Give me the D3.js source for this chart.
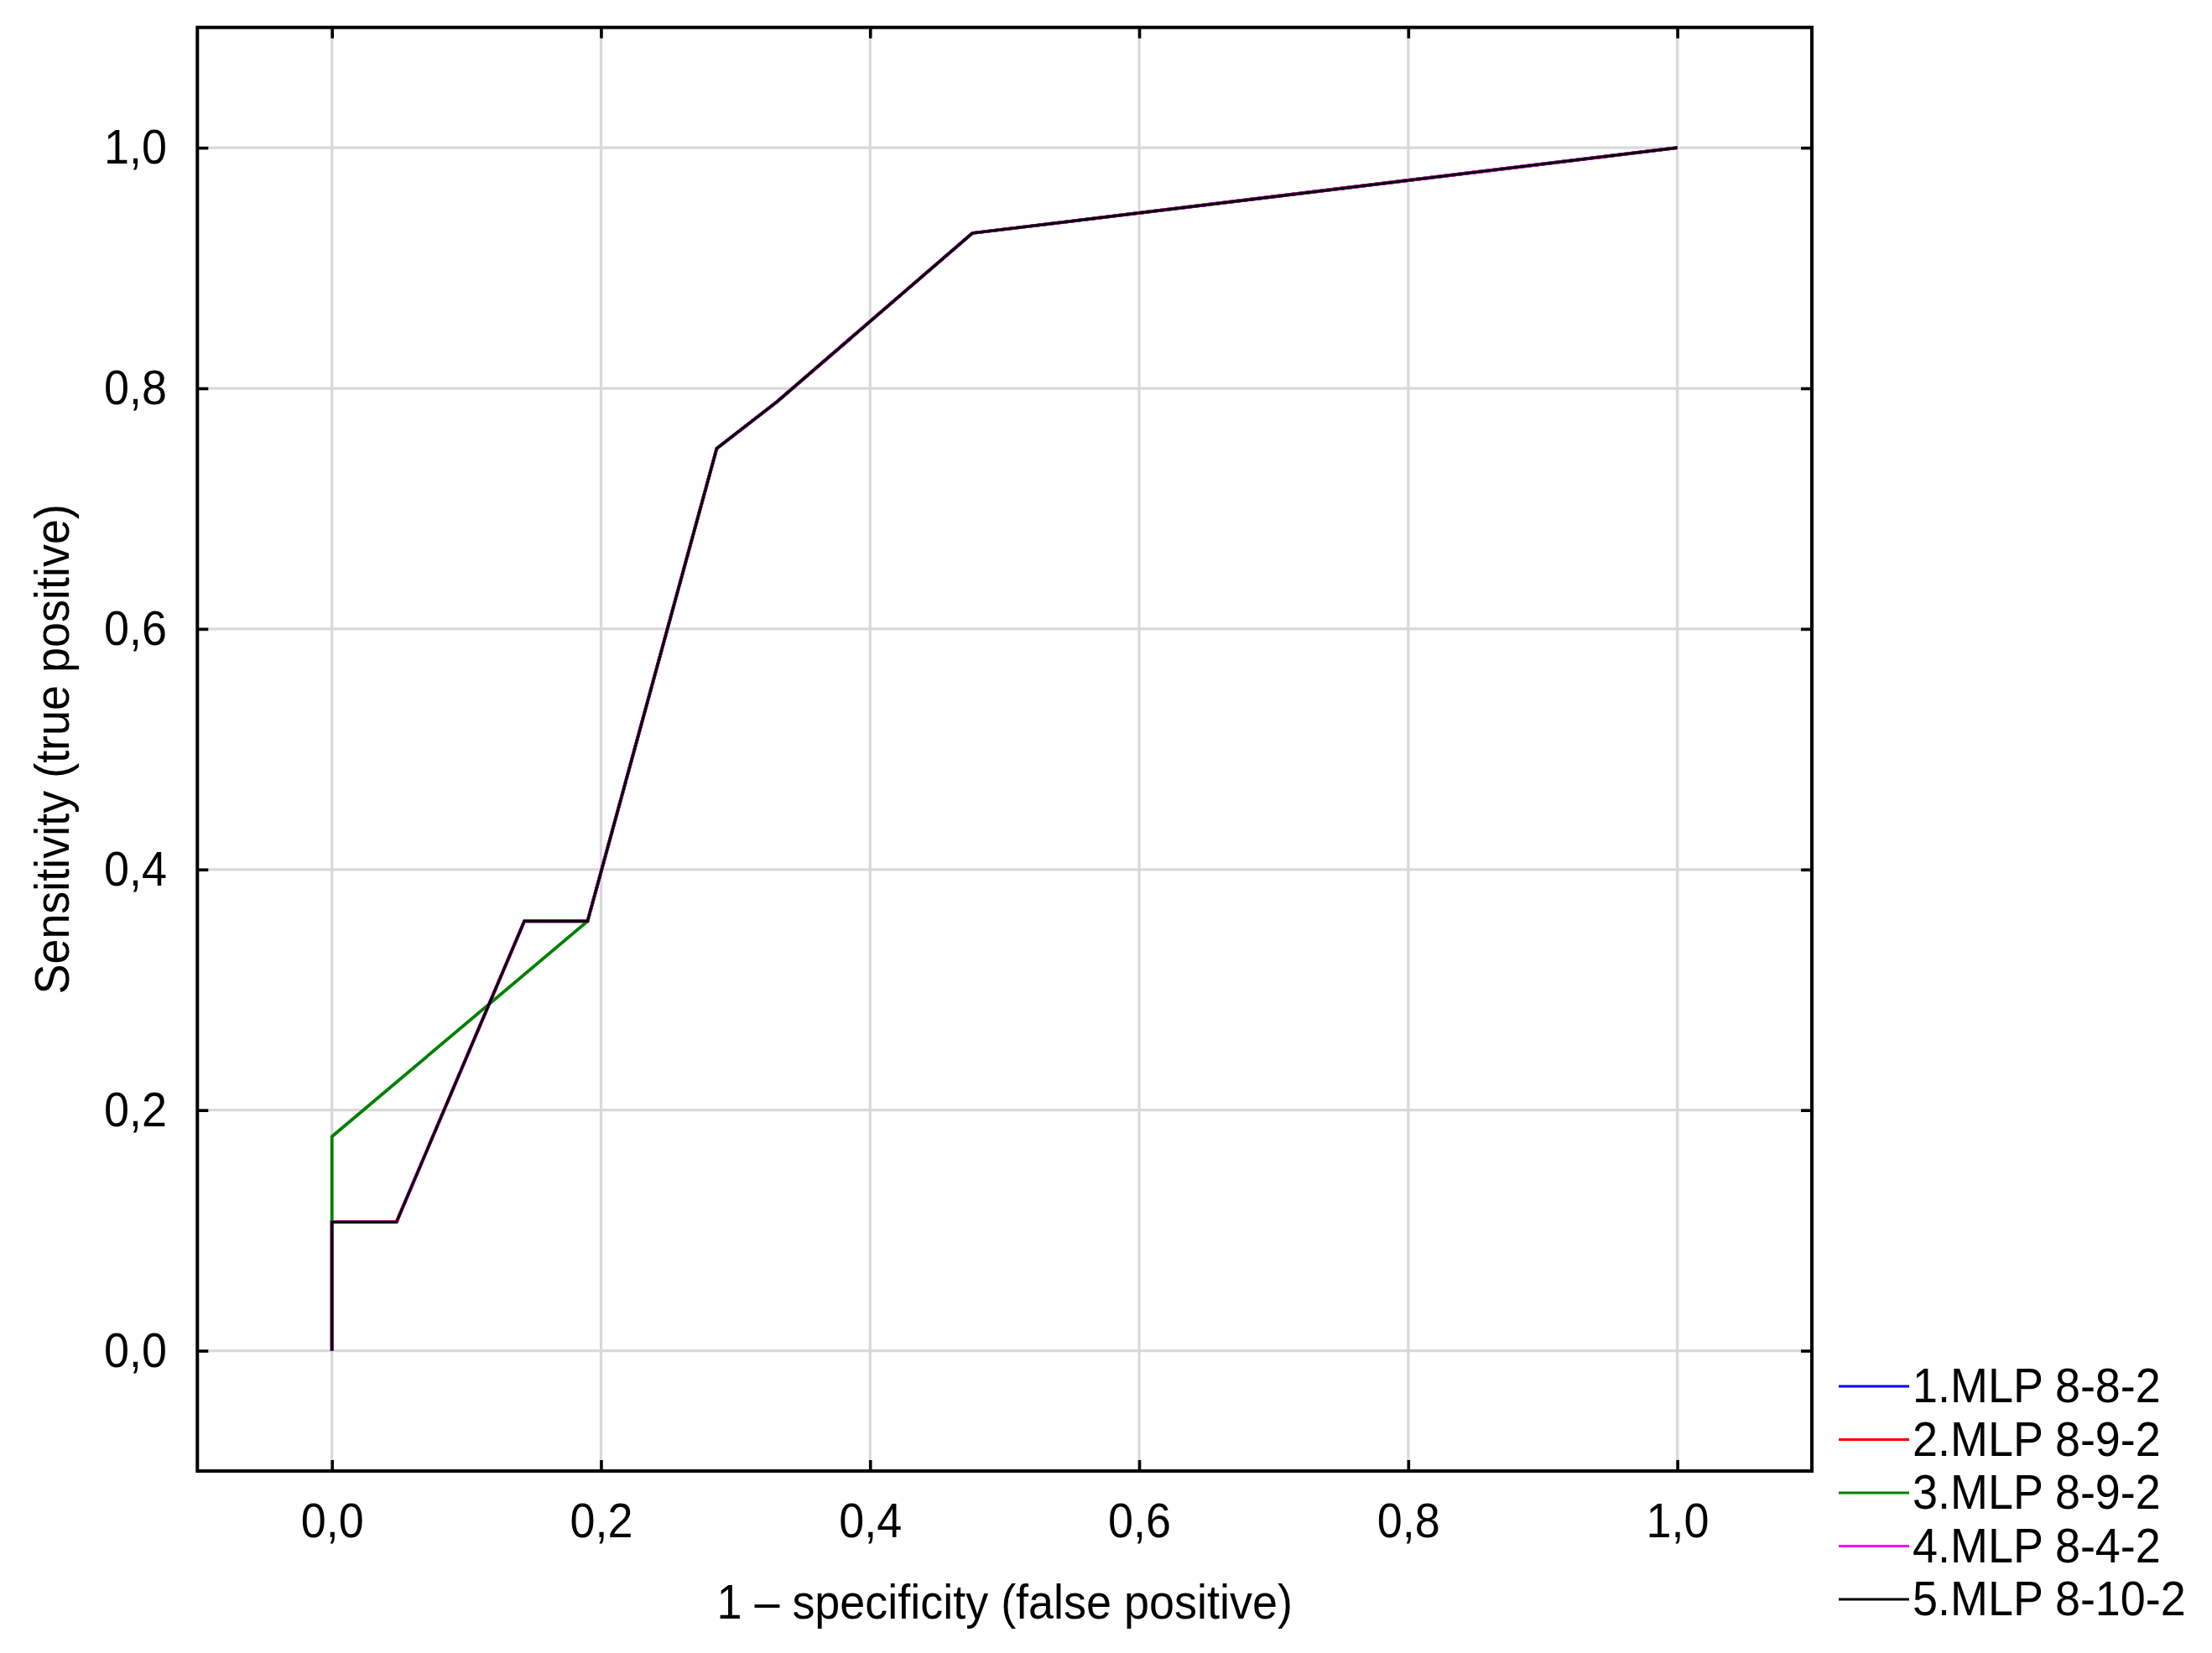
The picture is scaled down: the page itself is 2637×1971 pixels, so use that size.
<!DOCTYPE html>
<html>
<head>
<meta charset="utf-8">
<script src="https://cdn.jsdelivr.net/npm/d3@7"></script>
<style>
  html, body { margin: 0; padding: 0; background: #ffffff; }
  svg { display: block; }
  text { font-family: "Liberation Sans", Arial, sans-serif; fill: #000; }
</style>
</head>
<body>
<svg id="chart" width="2637" height="1971"></svg>
<script>
// ---- data ----
const seriesNames = ["1.MLP 8-8-2", "2.MLP 8-9-2", "3.MLP 8-9-2", "4.MLP 8-4-2", "5.MLP 8-10-2"];
const seriesColors = ["#0000ff", "#ff0000", "#008000", "#ff00ff", "#000000"];

const fpr1 = [0, 0, 0.048, 0.143, 0.190, 0.286, 0.331, 0.476, 1.0];
const tpr1 = [0, 0.107, 0.107, 0.357, 0.357, 0.750, 0.789, 0.929, 1.0];
const fpr2 = [0, 0, 0.048, 0.143, 0.190, 0.286, 0.331, 0.476, 1.0];
const tpr2 = [0, 0.107, 0.107, 0.357, 0.357, 0.750, 0.789, 0.929, 1.0];
const fpr3 = [0, 0, 0.190, 0.286, 0.331, 0.476, 1.0];
const tpr3 = [0, 0.178, 0.357, 0.750, 0.789, 0.929, 1.0];
const fpr4 = [0, 0, 0.048, 0.143, 0.190, 0.286, 0.331, 0.476, 1.0];
const tpr4 = [0, 0.107, 0.107, 0.357, 0.357, 0.750, 0.789, 0.929, 1.0];
const fpr5 = [0, 0, 0.048, 0.143, 0.190, 0.286, 0.331, 0.476, 1.0];
const tpr5 = [0, 0.107, 0.107, 0.357, 0.357, 0.750, 0.789, 0.929, 1.0];

const xTicks = [0, 0.2, 0.4, 0.6, 0.8, 1.0];
const yTicks = [0, 0.2, 0.4, 0.6, 0.8, 1.0];
const xDomain = [-0.1, 1.1];
const yDomain = [-0.1, 1.1];
const xTitle = "1 \u2013 specificity (false positive)";
const yTitle = "Sensitivity (true positive)";

// ---- layout ----
const plot = { left: 235.3, right: 2160, top: 32.7, bottom: 1754 };
const FS = 58, SX = 0.93;
const fmt = d => d3.format(".1f")(d).replace(".", ",");

const svg = d3.select("#chart");
const x = d3.scaleLinear().domain(xDomain).range([plot.left, plot.right]);
const y = d3.scaleLinear().domain(yDomain).range([plot.bottom, plot.top]);

// grid
const grid = svg.append("g");
grid.selectAll("line.vx").data(xTicks).join("line")
  .attr("x1", d => x(d)).attr("x2", d => x(d))
  .attr("y1", plot.top).attr("y2", plot.bottom)
  .attr("stroke", "#d9d9d9").attr("stroke-width", 3.2);
grid.selectAll("line.hy").data(yTicks).join("line")
  .attr("x1", plot.left).attr("x2", plot.right)
  .attr("y1", d => y(d)).attr("y2", d => y(d))
  .attr("stroke", "#d9d9d9").attr("stroke-width", 3.2);

// series
const allSeries = [
  { xs: fpr1, ys: tpr1 }, { xs: fpr2, ys: tpr2 }, { xs: fpr3, ys: tpr3 },
  { xs: fpr4, ys: tpr4 }, { xs: fpr5, ys: tpr5 }
];
const line = d3.line().x(d => x(d[0])).y(d => y(d[1]));
allSeries.forEach((s, i) => {
  svg.append("path")
    .attr("d", line(d3.zip(s.xs, s.ys)))
    .attr("fill", "none")
    .attr("stroke", seriesColors[i])
    .attr("stroke-width", i === 4 ? 3.2 : 3.8)
    .attr("stroke-linejoin", "miter");
});

// axes (inward ticks)
const styleAxis = g => {
  g.select(".domain").remove();
  g.selectAll(".tick line").attr("stroke", "#000").attr("stroke-width", 3.6);
  g.selectAll(".tick text").attr("font-size", FS).attr("font-family", "Liberation Sans, Arial, sans-serif")
    .attr("fill", "#000");
};
svg.append("g").attr("transform", `translate(0,${plot.bottom})`)
  .call(d3.axisBottom(x).tickValues(xTicks).tickFormat(fmt).tickSize(-13).tickSizeOuter(0).tickPadding(38))
  .call(styleAxis)
  .call(g => g.selectAll(".tick text").attr("transform", `scale(${SX},1)`));
svg.append("g").attr("transform", `translate(0,${plot.top})`)
  .call(d3.axisTop(x).tickValues(xTicks).tickFormat("").tickSize(-13).tickSizeOuter(0))
  .call(styleAxis);
svg.append("g").attr("transform", `translate(${plot.left},0)`)
  .call(d3.axisLeft(y).tickValues(yTicks).tickFormat(fmt).tickSize(-13).tickSizeOuter(0).tickPadding(39))
  .call(styleAxis)
  .call(g => g.selectAll(".tick text").attr("transform", `scale(${SX},1)`));
svg.append("g").attr("transform", `translate(${plot.right},0)`)
  .call(d3.axisRight(y).tickValues(yTicks).tickFormat("").tickSize(-13).tickSizeOuter(0))
  .call(styleAxis);

// border
svg.append("rect")
  .attr("x", plot.left).attr("y", plot.top)
  .attr("width", plot.right - plot.left).attr("height", plot.bottom - plot.top)
  .attr("fill", "none").attr("stroke", "#000").attr("stroke-width", 4);

// axis titles
svg.append("g").attr("transform", `translate(${(plot.left + plot.right) / 2},1930)`)
  .append("text").attr("text-anchor", "middle").attr("font-size", FS)
  .attr("transform", `scale(${SX},1)`).text(xTitle);
svg.append("g").attr("transform", `translate(82,${(plot.top + plot.bottom) / 2}) rotate(-90)`)
  .append("text").attr("text-anchor", "middle").attr("font-size", FS)
  .attr("transform", `scale(${SX},1)`).text(yTitle);

// legend
const legend = svg.append("g");
seriesNames.forEach((name, i) => {
  const ly = 1653 + i * 63.5;
  legend.append("line")
    .attr("x1", 2192).attr("x2", 2276).attr("y1", ly).attr("y2", ly)
    .attr("stroke", seriesColors[i]).attr("stroke-width", 3);
  legend.append("g").attr("transform", `translate(2280,${ly + 19})`)
    .append("text").attr("font-size", FS).attr("transform", `scale(${SX},1)`).text(name);
});
</script>
</body>
</html>
